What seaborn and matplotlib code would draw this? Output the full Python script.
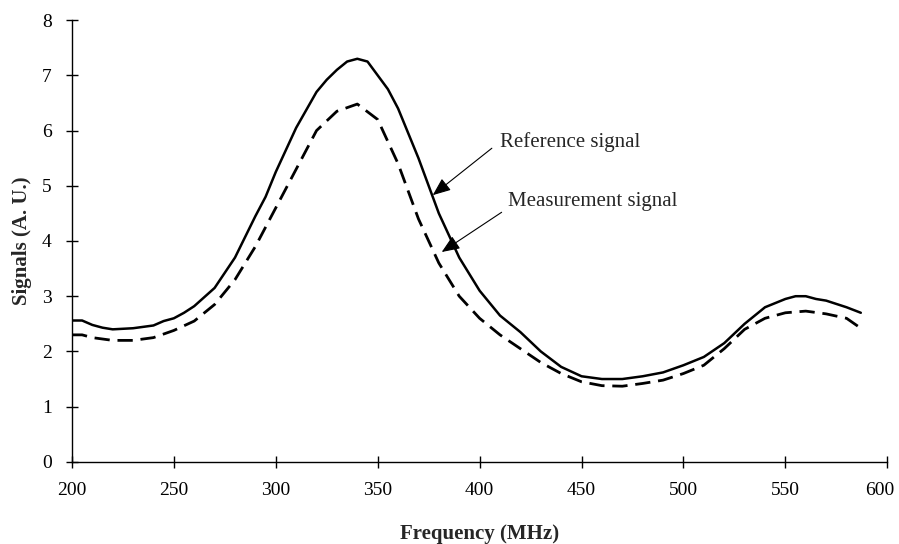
import numpy as np
import pandas as pd
import seaborn as sns
import matplotlib.pyplot as plt
import matplotlib.transforms as mtransforms

# ===============================
# Data
# ===============================
ref_freq = [200, 205, 210, 215, 220, 230, 240, 245, 250, 255, 260, 270, 280, 290,
            295, 300, 310, 320, 325, 330, 335, 340, 345, 350, 355, 360, 370, 380,
            390, 400, 410, 415, 420, 430, 440, 450, 460, 470, 480, 490, 500, 510,
            520, 530, 540, 550, 555, 560, 565, 570, 580, 587]
ref_signal = [2.56, 2.56, 2.48, 2.43, 2.40, 2.42, 2.47, 2.55, 2.60, 2.70, 2.82, 3.15,
              3.70, 4.45, 4.80, 5.25, 6.05, 6.70, 6.92, 7.10, 7.25, 7.30, 7.25, 7.00,
              6.75, 6.40, 5.50, 4.50, 3.70, 3.10, 2.65, 2.50, 2.35, 2.00, 1.72, 1.55,
              1.50, 1.50, 1.55, 1.62, 1.75, 1.90, 2.15, 2.50, 2.80, 2.95, 3.00, 3.00,
              2.95, 2.92, 2.80, 2.70]

meas_freq = [200, 205, 210, 220, 230, 240, 250, 260, 270, 280, 290, 300, 310, 320,
             330, 340, 350, 360, 370, 380, 390, 400, 410, 420, 430, 440, 450, 460,
             470, 480, 490, 500, 510, 520, 530, 540, 550, 560, 570, 580, 587]
meas_signal = [2.30, 2.30, 2.25, 2.20, 2.20, 2.25, 2.38, 2.55, 2.85, 3.30, 3.90, 4.60,
               5.30, 6.00, 6.35, 6.48, 6.20, 5.40, 4.40, 3.60, 3.00, 2.60, 2.30, 2.05,
               1.80, 1.60, 1.45, 1.38, 1.37, 1.42, 1.48, 1.60, 1.75, 2.05, 2.40, 2.60,
               2.70, 2.73, 2.68, 2.60, 2.42]

x_ticks = [200, 250, 300, 350, 400, 450, 500, 550, 600]
y_ticks = [0, 1, 2, 3, 4, 5, 6, 7, 8]

df_ref = pd.DataFrame({"freq": ref_freq, "signal": ref_signal})
df_meas = pd.DataFrame({"freq": meas_freq, "signal": meas_signal})

# ===============================
# Plot
# ===============================
sns.set_style("ticks")
plt.rcParams["font.family"] = ["Liberation Serif", "DejaVu Serif"]

fig = plt.figure(figsize=(8.99, 5.44), dpi=100)
ax = fig.add_axes([0.080, 0.151, 0.907, 0.812])

sns.lineplot(data=df_ref, x="freq", y="signal", ax=ax, color="black", lw=1.8)
sns.lineplot(data=df_meas, x="freq", y="signal", ax=ax, color="black", lw=2.0)
ax.lines[1].set_dashes([5.5, 2.8])

ax.set_xlim(200, 600)
ax.set_ylim(0, 8)
ax.set_xticks(x_ticks)
ax.set_yticks(y_ticks)
ax.tick_params(direction="inout", length=9, width=1, labelsize=14, pad=10, colors="black")
sns.despine(ax=ax)
for s in ["left", "bottom"]:
    ax.spines[s].set_linewidth(1)
    ax.spines[s].set_color("black")

# last x label sits a little left of its tick, as in the original
last = ax.get_xticklabels()[-1]
last.set_transform(last.get_transform() +
                   mtransforms.ScaledTranslation(-0.08, 0, fig.dpi_scale_trans))

ax.set_xlabel("Frequency (MHz)", fontsize=15, fontweight="bold", labelpad=18)
ax.set_ylabel("Signals (A. U.)", fontsize=15, fontweight="bold", labelpad=7)

arrow = dict(arrowstyle="-|>,head_length=1.1,head_width=0.45", color="black", lw=0.8,
             shrinkA=0, shrinkB=0)
ax.annotate("", xy=(377, 4.83), xytext=(406, 5.68), arrowprops=arrow)
ax.text(410, 5.79, "Reference signal", fontsize=15, va="center", ha="left")
ax.annotate("", xy=(381.4, 3.80), xytext=(410.8, 4.52), arrowprops=arrow)
ax.text(413.7, 4.71, "Measurement signal", fontsize=15, va="center", ha="left")

plt.savefig("out.png", dpi=100)
